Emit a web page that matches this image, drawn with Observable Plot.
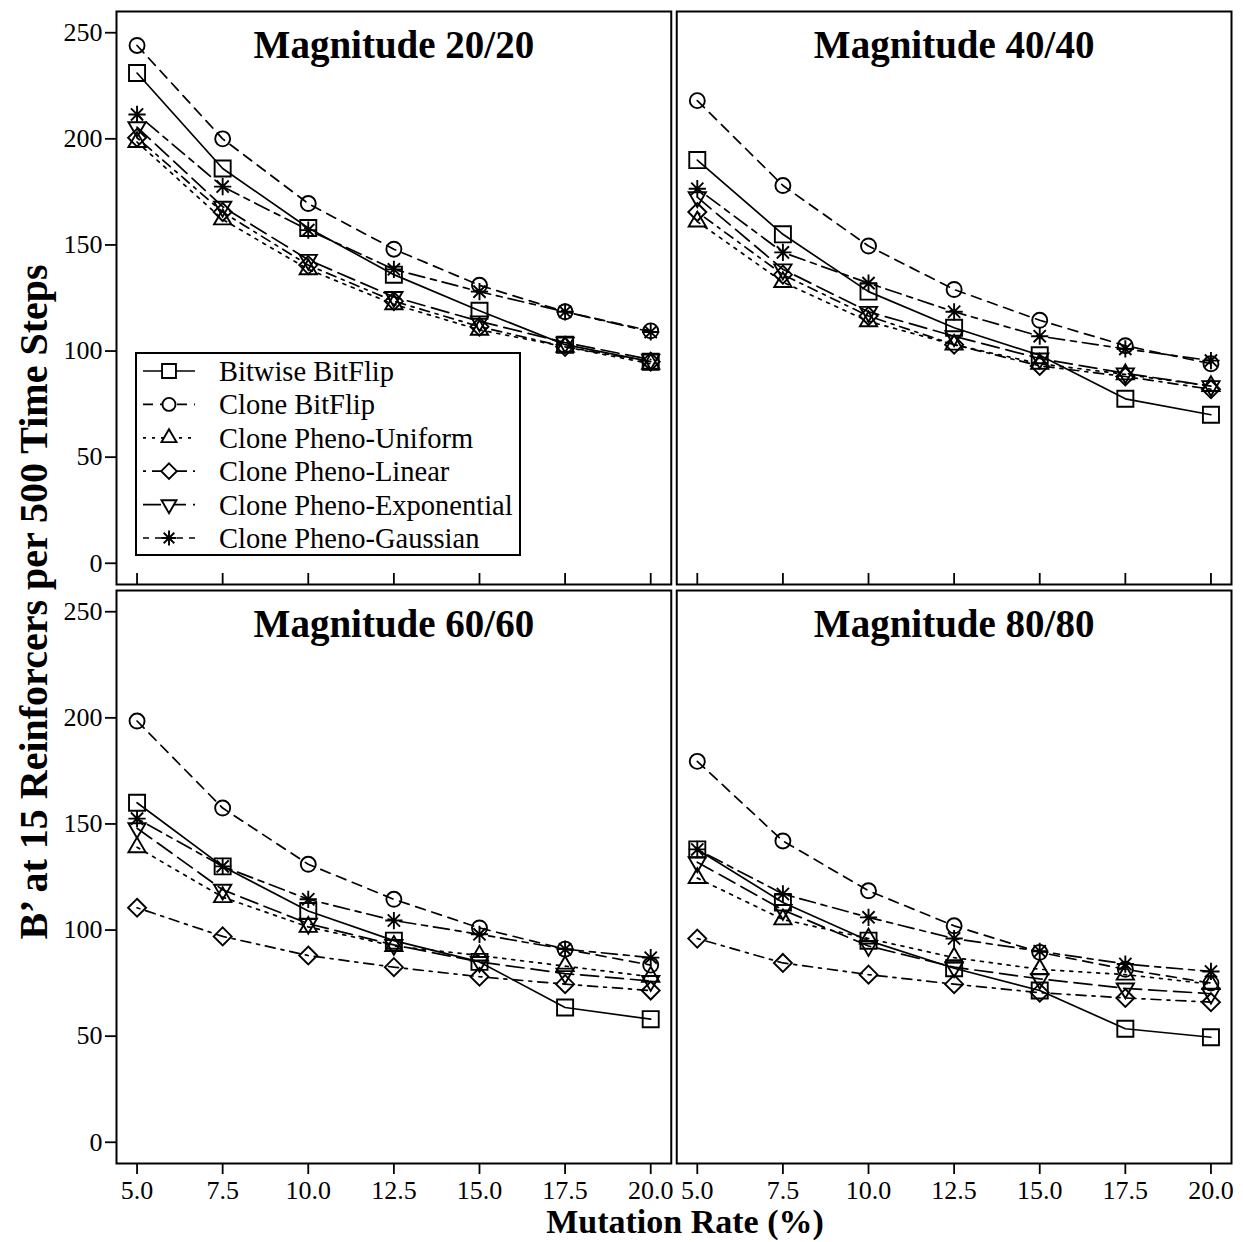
<!DOCTYPE html>
<html>
<head>
<meta charset="utf-8">
<script src="https://cdn.jsdelivr.net/npm/d3@7"></script>
<script src="https://cdn.jsdelivr.net/npm/@observablehq/plot@0.6"></script>
<style>
  html, body { margin: 0; padding: 0; background: #fff; }
  #chart { width: 1243px; height: 1242px; }
</style>
</head>
<body>
<div id="chart"></div>
<script>
// Mutation rates (%) on the x axis
const rates = [5.0, 7.5, 10.0, 12.5, 15.0, 17.5, 20.0];
// Panels: reinforcer magnitude, with grid position
const magnitudes = ["20/20", "40/40", "60/60", "80/80"];
const panelRow = [0, 0, 1, 1];
const panelCol = [0, 1, 0, 1];
const yTicks = [0, 50, 100, 150, 200, 250];

const methods = [
  "Bitwise BitFlip",
  "Clone BitFlip",
  "Clone Pheno-Uniform",
  "Clone Pheno-Linear",
  "Clone Pheno-Exponential",
  "Clone Pheno-Gaussian"
];

// B' per method; one row per magnitude (20/20, 40/40, 60/60, 80/80)
const bitwiseBitFlip = [
  [231, 186, 158, 136, 119, 103, 95],
  [190, 155, 128, 111, 98, 77.5, 70],
  [160, 130, 109, 95, 85, 63.5, 58],
  [138, 113, 95, 82, 71.5, 53.5, 49.5]
];
const cloneBitFlip = [
  [244, 200, 169.5, 148, 131, 118.5, 109.5],
  [218, 178, 149.5, 129, 114.5, 102.5, 94],
  [198.5, 157.5, 131, 114.5, 101, 91, 83.5],
  [179.5, 142, 118.5, 102, 89.5, 81.5, 75]
];
const phenoUniform = [
  [198.5, 162, 138.5, 122, 110, 102, 94],
  [161, 132.5, 114, 103, 94, 89, 83.5],
  [139, 115.5, 101.5, 92.5, 88, 83, 78],
  [124.5, 105, 96, 87, 81.5, 79, 74.5]
];
const phenoLinear = [
  [200.5, 165.5, 140.5, 123.5, 111.5, 102, 95],
  [165.5, 136, 116.5, 103, 93, 88, 82],
  [110.5, 97, 88, 82.5, 78, 74.5, 71.5],
  [96, 84.5, 79, 74.5, 70.5, 68, 66]
];
const phenoExponential = [
  [205.5, 168, 143, 125.5, 114, 104, 96],
  [172.5, 138.5, 118.5, 107, 96.5, 89.5, 83.5],
  [148, 119, 103, 93, 85, 79.5, 76],
  [132, 109.5, 92.5, 82.5, 77, 72.5, 70]
];
const phenoGaussian = [
  [211.5, 177.5, 157, 138.5, 128, 118.5, 109],
  [176.5, 146.5, 132, 118.5, 107, 101, 95.5],
  [152.5, 130, 114.5, 104.5, 98, 91, 87],
  [138, 117, 106, 96, 90, 84, 80.5]
];
const seriesValues = [bitwiseBitFlip, cloneBitFlip, phenoUniform, phenoLinear, phenoExponential, phenoGaussian];

// Line types: solid, dashed, dotted, dot-dash, long dash, two-dash
const dashes = [null, "10,7", "3,6", "3,6,10,6", "18,7", "6,6,16,6"];

// Open plotting symbols; the radius is derived from the symbol size
const rad = size => Math.sqrt(size / Math.PI);
const symCircle = { draw(c, size) { const s = rad(size); c.moveTo(s, 0); c.arc(0, 0, s, 0, 2 * Math.PI); c.closePath(); } };
const symSquare = { draw(c, size) { const h = rad(size) * 1.07; c.moveTo(-h, -h); c.lineTo(h, -h); c.lineTo(h, h); c.lineTo(-h, h); c.closePath(); } };
const symTriUp = { draw(c, size) { const s = rad(size), r = 1.32 * s, xc = 1.15 * s, yc = 0.66 * s; c.moveTo(0, -r); c.lineTo(xc, yc); c.lineTo(-xc, yc); c.closePath(); } };
const symTriDown = { draw(c, size) { const s = rad(size), r = 1.32 * s, xc = 1.15 * s, yc = 0.66 * s; c.moveTo(0, r); c.lineTo(xc, -yc); c.lineTo(-xc, -yc); c.closePath(); } };
const symDiamond = { draw(c, size) { const d = rad(size) * 1.2; c.moveTo(0, -d); c.lineTo(d, 0); c.lineTo(0, d); c.lineTo(-d, 0); c.closePath(); } };
const symAsterisk = { draw(c, size) { const a = rad(size) * 1.15, b = a * 0.7071;
  c.moveTo(-a, 0); c.lineTo(a, 0); c.moveTo(0, -a); c.lineTo(0, a);
  c.moveTo(-b, -b); c.lineTo(b, b); c.moveTo(-b, b); c.lineTo(b, -b); } };
const symbols = [symSquare, symCircle, symTriUp, symDiamond, symTriDown, symAsterisk];

// Long table built from the arrays above
const rows = [];
methods.forEach((m, i) => {
  magnitudes.forEach((mag, j) => {
    rates.forEach((r, k) => {
      rows.push({ method: m, mag, row: panelRow[j], col: panelCol[j], rate: r, value: seriesValues[i][j][k] });
    });
  });
});
const panels = magnitudes.map((mag, j) => ({ mag, row: panelRow[j], col: panelCol[j] }));

const serif = "'Liberation Serif', 'Times New Roman', serif";
const dotR = 7.5;

const chart = Plot.plot({
  width: 1243,
  height: 1242,
  marginTop: 11,
  marginBottom: 79,
  marginLeft: 116,
  marginRight: 12,
  style: { fontFamily: serif, fontSize: "26px", color: "black", background: "white" },
  fx: { domain: [0, 1], axis: null, paddingInner: 0.0098, paddingOuter: 0, round: false },
  fy: { domain: [0, 1], axis: null, paddingInner: 0.0104, paddingOuter: 0, round: false },
  x: { domain: [4.4, 20.6] },
  y: { domain: [-10, 260] },
  marks: [
    Plot.frame({ stroke: "black", strokeWidth: 2 }),
    Plot.axisY({ ticks: yTicks, tickSize: 11, tickPadding: 3, fontSize: 26, label: null, facetAnchor: "left", strokeWidth: 1.8 }),
    Plot.axisX({ ticks: rates, tickSize: 11, tickPadding: 6, tickFormat: d3.format(".1f"), fontSize: 26, label: null, facetAnchor: "bottom", strokeWidth: 1.8 }),
    // inward ticks along the bottom of the upper panels
    Plot.ruleX(rates, { x: d => d, fy: () => 0, insetTop: 562, stroke: "black", strokeWidth: 1.8 }),
    ...methods.map((m, i) => Plot.line(rows.filter(d => d.method === m), {
      x: "rate", y: "value", fx: "col", fy: "row",
      stroke: "black", strokeWidth: 1.7, strokeDasharray: dashes[i]
    })),
    ...methods.map((m, i) => Plot.dot(rows.filter(d => d.method === m), {
      x: "rate", y: "value", fx: "col", fy: "row",
      symbol: symbols[i], r: dotR, fill: "none", stroke: "black", strokeWidth: 1.9
    })),
    Plot.text(panels, {
      fx: "col", fy: "row", text: d => "Magnitude " + d.mag,
      frameAnchor: "top", dy: 34, lineAnchor: "middle",
      fontSize: 39, fontWeight: "bold", fill: "black"
    })
  ]
});

document.getElementById("chart").appendChild(chart);

// Axis titles and the legend, drawn into the same SVG
const svg = d3.select(chart);

svg.append("text")
  .attr("transform", "translate(47,602) rotate(-90)")
  .attr("text-anchor", "middle")
  .attr("font-family", serif)
  .attr("font-size", 40)
  .attr("font-weight", "bold")
  .attr("fill", "black")
  .text("B\u2019 at 15 Reinforcers per 500 Time Steps");

svg.append("text")
  .attr("x", 685)
  .attr("y", 1233)
  .attr("text-anchor", "middle")
  .attr("font-family", serif)
  .attr("font-size", 34)
  .attr("font-weight", "bold")
  .attr("fill", "black")
  .text("Mutation Rate (%)");

const legend = svg.append("g").attr("text-anchor", "start");
legend.append("rect")
  .attr("x", 136).attr("y", 353).attr("width", 384).attr("height", 202)
  .attr("fill", "white").attr("stroke", "black").attr("stroke-width", 2);

methods.forEach((m, i) => {
  const cy = 371 + i * 33.4;
  const g = legend.append("g");
  g.append("line")
    .attr("x1", 143).attr("x2", 195).attr("y1", cy).attr("y2", cy)
    .attr("stroke", "black").attr("stroke-width", 1.7)
    .attr("stroke-dasharray", dashes[i]);
  g.append("path")
    .attr("transform", `translate(169,${cy})`)
    .attr("d", d3.symbol(symbols[i], Math.PI * 6.5 * 6.5)())
    .attr("fill", "white").attr("stroke", "black").attr("stroke-width", 1.9);
  g.append("text")
    .attr("x", 219).attr("y", cy)
    .attr("dy", "0.35em")
    .attr("text-anchor", "start")
    .attr("font-family", serif)
    .attr("font-size", 28.5)
    .attr("fill", "black")
    .text(m);
});
</script>
</body>
</html>
